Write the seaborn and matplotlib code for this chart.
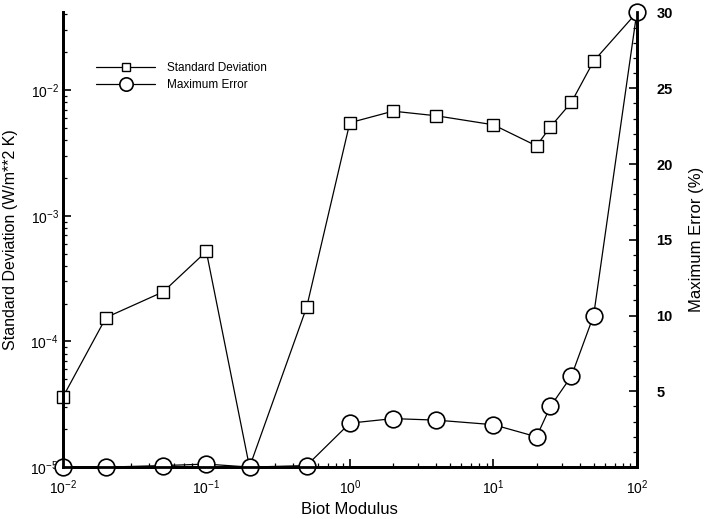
import numpy as np
import pandas as pd
import matplotlib
matplotlib.use("Agg")
import matplotlib.pyplot as plt
import seaborn as sns
from matplotlib.ticker import LogLocator, MultipleLocator, NullFormatter

# values
biot = [0.01, 0.02, 0.05, 0.1, 0.2, 0.5, 1, 2, 4, 10, 20, 25, 35, 50, 100]
std_dev = [3.6e-5, 1.55e-4, 2.48e-4, 5.2e-4, 1.0e-5, 1.87e-4, 5.5e-3, 6.8e-3,
           6.25e-3, 5.3e-3, 3.6e-3, 5.1e-3, 8.0e-3, 1.7e-2, 4.15e-2]
max_err = [0.0, 0.0, 0.1, 0.2, 0.0, 0.1, 2.9, 3.2, 3.1, 2.8, 2.0, 4.0, 6.0, 10.0, 30.0]

x_ticks = [0.01, 0.1, 1, 10, 100]
x_labels = ['$10^{-2}$', '$10^{-1}$', '$10^{0}$', '$10^{1}$', '$10^{2}$']
y_ticks = [1e-5, 1e-4, 1e-3, 1e-2]
y_labels = ['$10^{-5}$', '$10^{-4}$', '$10^{-3}$', '$10^{-2}$']
err_ticks = [5, 10, 15, 20, 25, 30]

sns.set_style("ticks")
plt.rcParams['font.family'] = ['Liberation Sans', 'DejaVu Sans']
plt.rcParams['mathtext.fontset'] = 'custom'
plt.rcParams['mathtext.rm'] = 'Liberation Sans'
plt.rcParams['mathtext.it'] = 'Liberation Sans'
plt.rcParams['text.color'] = 'black'
plt.rcParams['axes.labelcolor'] = 'black'
plt.rcParams['xtick.color'] = 'black'
plt.rcParams['ytick.color'] = 'black'
plt.rcParams['axes.edgecolor'] = 'black'

df = pd.DataFrame({'biot': biot, 'std': std_dev, 'err': max_err})

fig = plt.figure(figsize=(7.06, 5.19), dpi=100)
ax = fig.add_axes([0.089, 0.100, 0.813, 0.876])
ax.set_xscale('log')
ax.set_yscale('log')
ax2 = ax.twinx()

sns.lineplot(data=df, x='biot', y='std', ax=ax, color='black', lw=0.9,
             marker='s', ms=8, mfc='white', mec='black', mew=1,
             label='Standard Deviation', legend=False, clip_on=False)
sns.lineplot(data=df, x='biot', y='err', ax=ax2, color='black', lw=0.9,
             marker='o', ms=12, mfc='white', mec='black', mew=1.2,
             label='Maximum Error', legend=False, clip_on=False)

ax.set_xlim(0.01, 100)
ax.set_ylim(1e-5, 4.15e-2)
ax2.set_ylim(0, 30)

ax.set_xticks(x_ticks)
ax.set_xticklabels(x_labels)
ax.xaxis.set_minor_locator(LogLocator(base=10, subs=np.arange(2, 10)))
ax.xaxis.set_minor_formatter(NullFormatter())
ax.set_yticks(y_ticks)
ax.set_yticklabels(y_labels)
ax.yaxis.set_minor_locator(LogLocator(base=10, subs=np.arange(2, 10)))
ax.yaxis.set_minor_formatter(NullFormatter())
ax2.set_yticks(err_ticks)
ax2.yaxis.set_minor_locator(MultipleLocator(1))

for a in (ax, ax2):
    a.tick_params(which='major', direction='in', length=6, width=1.2, labelsize=10)
    a.tick_params(which='minor', direction='in', length=3, width=0.9)
    for s in ('left', 'right', 'bottom'):
        a.spines[s].set_linewidth(2)
    a.spines['top'].set_visible(False)
ax.tick_params(axis='y', right=False, pad=3)
ax.tick_params(axis='x', pad=8)
ax2.tick_params(axis='y', pad=14, labelsize=10.5)
for t in ax2.get_yticklabels():
    t.set_fontweight('bold')

ax.set_xlabel('Biot Modulus', fontsize=12, labelpad=4)
ax.set_ylabel('Standard Deviation (W/m**2 K)', fontsize=11.5)
ax.yaxis.set_label_coords(-0.078, 0.5)
ax2.set_ylabel('Maximum Error (%)', fontsize=12, labelpad=12)

h1, l1 = ax.get_legend_handles_labels()
h2, l2 = ax2.get_legend_handles_labels()
ax2.legend(h1 + h2, l1 + l2, loc='upper left', bbox_to_anchor=(0.04, 0.915),
           frameon=False, fontsize=8.5, handlelength=5.0, handletextpad=1.0,
           labelspacing=0.45, markerscale=0.8)

fig.savefig('out.png', dpi=100)
